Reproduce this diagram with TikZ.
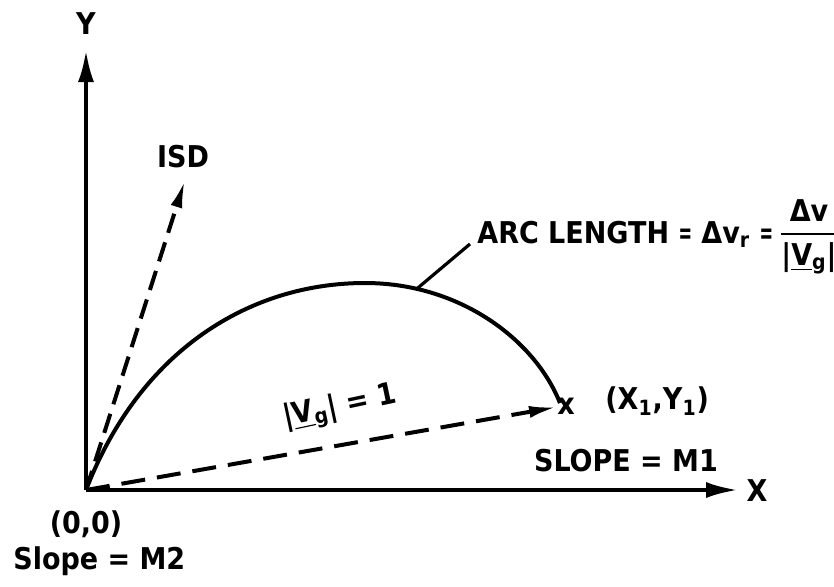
\documentclass[tikz,border=0pt]{standalone}
\usepackage{fontspec}
\usepackage{amsmath}
\usepackage{graphicx}
\setmainfont{DejaVu Sans Condensed}[BoldFont={DejaVu Sans Condensed Bold}]
\usetikzlibrary{arrows.meta}
\newcommand\narroweq{\scalebox{0.6}[1]{=}}
\begin{document}
\begin{tikzpicture}[x=0.5pt,y=-0.5pt,
  lbl/.style={font=\bfseries\fontsize{15}{17}\selectfont, inner sep=0pt},
  axis/.style={line width=2pt, -{Latex[length=16pt,width=8pt]}},
  dsh/.style={line width=2pt, dash pattern=on 10pt off 5pt, -{Latex[length=14pt,width=6pt]}},
  crv/.style={line width=2pt}]
\useasboundingbox (0,0) rectangle (834,586);
\coordinate (O) at (86,490);
\coordinate (ytip) at (86,50);
\coordinate (xtip) at (738,490);
\coordinate (isdtip) at (185,180);
\coordinate (vtip) at (557,407);
\coordinate (lead) at (470,244);
\coordinate (fy) at (0,237);
% axes
\draw[axis] (O) -- (ytip);
\draw[axis] (O) -- (xtip);
% ISD
\draw[dsh] (O) -- (isdtip);
% unit vector
\draw[dsh, dash pattern=on 12pt off 6pt] (O) -- (vtip);
% arc
\draw[crv] (O) .. controls (140,350) and (250,283) .. (365,283)
  .. controls (460,283) and (535,340) .. coordinate[pos=0.19] (arcpt) (560,403);
\draw[line width=1.6pt] (arcpt) -- (lead);
% labels
\node[lbl] (ylbl) at (86,24) {Y};
\node[lbl] (xlbl) at (757,491) {X};
\node[lbl] (isd) at (183,157) {ISD};
\node[lbl] (mark) at (566,406) {x};
\node[lbl, anchor=west] (p1) at (605,401) {(X\textsubscript{1},Y\textsubscript{1})};
\node[lbl] (m1) at (626,461) {SLOPE = M1};
\node[lbl] (orig) at (86,524) {(0,0)};
\node[lbl, anchor=west] (m2) at (13,561) {Slope = M2};
\node[lbl, rotate=12] (vg) at (340,408) {|\underline{V}\textsubscript{g}| = 1};
\node[lbl, anchor=base west] (arc) at (477,243) {ARC LENGTH \narroweq{} Δv\textsubscript{r} \narroweq};
\path (arc.east) ++(5,0) coordinate (fa);
\node[lbl, anchor=west] (frac) at (fa |- fy) {$\genfrac{}{}{1.2pt}{0}{\text{Δv}}{\text{|\underline{V}\textsubscript{g}|}}$};
\end{tikzpicture}
\end{document}
